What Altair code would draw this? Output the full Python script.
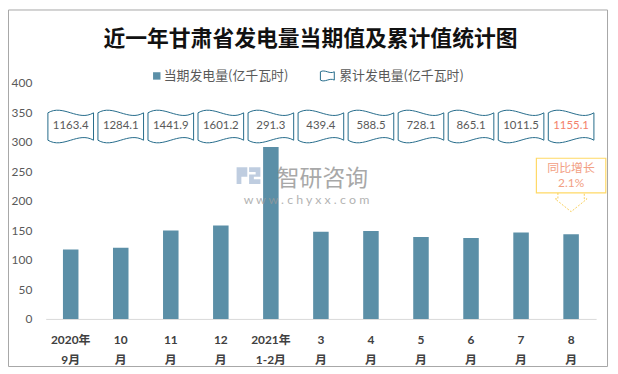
import altair as alt
import pandas as pd

# ---- data ----
categories = ["2020年|9月", "10|月", "11|月", "12|月", "2021年|1-2月",
              "3|月", "4|月", "5|月", "6|月", "7|月", "8|月"]
current = [117.6, 120.7, 150.0, 158.4, 291.3, 147.6, 149.1, 138.9, 137.0, 146.4, 143.6]
cumulative = [1163.4, 1284.1, 1441.9, 1601.2, 291.3, 439.4, 588.5, 728.1, 865.1, 1011.5, 1155.1]
highlight = ["n", "n", "n", "n", "n", "n", "n", "n", "n", "n", "y"]
y_ticks = [0, 50, 100, 150, 200, 250, 300, 350, 400]

title_text = "近一年甘肃省发电量当期值及累计值统计图"
legend_labels = ["当期发电量(亿千瓦时)", "累计发电量(亿千瓦时)"]
callout_lines = ["同比增长", "2.1%"]
watermark_cn = "智研咨询"
watermark_url = "w w w . c h y x x . c o m"

W, H = 555, 238
FONT = "Lato, Noto Sans CJK SC"
CJK = "Noto Sans CJK SC"
BAR = "#5B8FA7"
WAVE_C = "#236A8A"

df = pd.DataFrame({"cat": categories, "cur": current, "cum": cumulative, "hl": highlight})

WAVE = ("M -1 -0.6 C -0.33 -1.0 0.33 -0.2 1 -0.6 L 1 0.6 "
        "C 0.33 0.2 -0.33 1.0 -1 0.6 Z")
CALLOUT_BOX = "M -1 -0.5 L 1 -0.5 L 1 0.5 L -1 0.5 Z"
CALLOUT_ARROW = ("M -0.38 0.5 L -0.38 0.67 L -0.46 0.67 L 0 1.04 "
                 "L 0.46 0.67 L 0.38 0.67 L 0.38 0.5")
LOGO = ("M -1 -0.7 H -0.1 V 0.1 H -0.6 V 0.7 H -1 Z "
        "M 0.05 -0.7 H 1 V 0.1 H 0.45 V 0.3 H 1 V 0.7 H 0.05 V -0.1 H 0.6 V -0.3 H 0.05 Z")

xenc = alt.X(
    "cat:N", sort=categories, title=None,
    scale=alt.Scale(paddingInner=0.69, paddingOuter=0.345),
    axis=alt.Axis(labelExpr="split(datum.label, '|')", labelAngle=0, ticks=False,
                  domainColor="#D9D9D9", labelFont=FONT, labelFontSize=12,
                  labelFontWeight="bold", labelColor="#404040", labelPadding=16,
                  labelLineHeight=20),
)

base = alt.Chart(df).encode(x=xenc)

bars = base.mark_bar(color=BAR).encode(
    y=alt.Y("cur:Q", title=None, scale=alt.Scale(domain=[0, 400]),
            axis=alt.Axis(values=y_ticks, domain=False, ticks=False, grid=False,
                          labelFont=FONT, labelFontSize=12, labelColor="#595959",
                          labelPadding=14))
)

boxes = base.mark_point(shape=WAVE, size=46 * 46, filled=True, fill="white",
                        stroke=WAVE_C, strokeWidth=1, opacity=1).encode(y=alt.value(44))

box_text = base.mark_text(font=FONT, fontSize=11.5).encode(
    y=alt.value(44),
    text=alt.Text("cum:Q", format=".1f"),
    color=alt.Color("hl:N", scale=alt.Scale(domain=["n", "y"], range=["#595959", "#F4806A"]),
                    legend=None),
)

ann_df = pd.DataFrame({"cat": [categories[-1]], "l1": [callout_lines[0]], "l2": [callout_lines[1]]})
ann = alt.Chart(ann_df).encode(x=alt.X("cat:N", sort=categories))
ann_box = ann.mark_point(shape=CALLOUT_BOX, size=70 * 70, filled=True, fill="white",
                         stroke="#FFD966", strokeWidth=1.2, opacity=1).encode(y=alt.value(93.5))
ann_arrow = ann.mark_point(shape=CALLOUT_ARROW, size=70 * 70, filled=False,
                           stroke="#F8CF5C", strokeWidth=1, strokeDash=[2, 1.5],
                           opacity=1).encode(y=alt.value(93.5))
ann_t1 = ann.mark_text(font=CJK, fontSize=12, color="#F2A084").encode(
    y=alt.value(86), text="l1:N")
ann_t2 = ann.mark_text(font=FONT, fontSize=12, color="#F2A084").encode(
    y=alt.value(101), text="l2:N")

one = alt.Chart(pd.DataFrame({"title": [title_text], "l1": [legend_labels[0]],
                              "l2": [legend_labels[1]], "wm": [watermark_cn],
                              "url": [watermark_url]}))

title = one.mark_text(font=CJK, fontSize=22, fontWeight="bold", color="#111111").encode(
    x=alt.value(267), y=alt.value(-44.5), text="title:N")

leg_sq = one.mark_square(color=BAR, size=56, opacity=1).encode(x=alt.value(112), y=alt.value(-7))
leg_t1 = one.mark_text(font=CJK, fontSize=13, color="#595959", align="left").encode(
    x=alt.value(119), y=alt.value(-7), text="l1:N")
leg_wave = one.mark_point(shape=WAVE, size=14 * 14, filled=False, stroke=WAVE_C,
                          strokeWidth=1, opacity=1).encode(x=alt.value(284), y=alt.value(-7))
leg_t2 = one.mark_text(font=CJK, fontSize=13, color="#595959", align="left").encode(
    x=alt.value(296), y=alt.value(-7), text="l2:N")

logo = one.mark_point(shape=LOGO, size=24 * 24, filled=True, fill="#A9BCD6",
                      strokeWidth=0, opacity=0.75).encode(x=alt.value(204.5), y=alt.value(93.5))
wm1 = one.mark_text(font=CJK, fontSize=23, color="#8C8C8C", opacity=0.75).encode(
    x=alt.value(279), y=alt.value(96.5), text="wm:N")
wm2 = one.mark_text(font=FONT, fontSize=12.5, color="#9A9A9A", opacity=0.75).encode(
    x=alt.value(263), y=alt.value(118), text="url:N")

border = one.mark_rect(fillOpacity=0, stroke="#A6A6A6", strokeWidth=1).encode(
    x=alt.value(-37.5), x2=alt.value(566.5), y=alt.value(-73.5), y2=alt.value(286))

chart = alt.layer(
    border, bars, boxes, box_text, ann_box, ann_arrow, ann_t1, ann_t2,
    title, leg_sq, leg_t1, leg_wave, leg_t2, logo, wm1, wm2
).properties(
    width=W, height=H,
    padding={"left": 38, "top": 74, "right": 14, "bottom": 50},
    autosize=alt.AutoSizeParams(type="none"),
    background="white",
).configure_view(stroke=None)

chart.save("out.html", embed_options={"renderer": "svg", "actions": False})
